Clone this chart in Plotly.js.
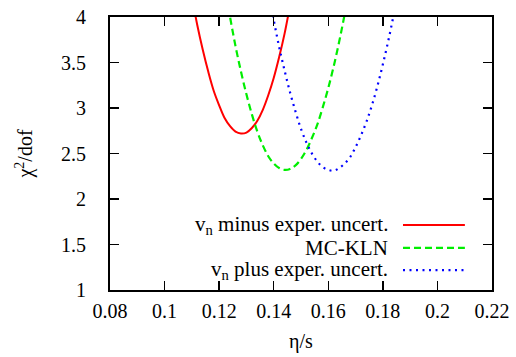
<!DOCTYPE html>
<html>
<head>
<meta charset="utf-8">
<script src="https://cdn.plot.ly/plotly-3.0.1.min.js"></script>
<style>
  html, body { margin: 0; padding: 0; background: #fff; }
  #chart { width: 516px; height: 357px; }
</style>
</head>
<body>
<div id="chart"></div>
<script>
// chi^2/dof versus eta/s for three fits
const etaMinus = [0.110, 0.112, 0.114, 0.116, 0.118, 0.120, 0.122, 0.124, 0.126, 0.128,
                  0.130, 0.132, 0.134, 0.136, 0.138, 0.140, 0.142, 0.144, 0.146, 0.148];
const chiMinus = [4.22, 3.91, 3.64, 3.40, 3.19, 3.03, 2.89, 2.80, 2.74, 2.72,
                  2.73, 2.78, 2.86, 2.98, 3.14, 3.33, 3.56, 3.82, 4.13, 4.46];

const etaKLN = [0.122, 0.124, 0.126, 0.128, 0.130, 0.132, 0.134, 0.136, 0.138, 0.140, 0.142, 0.144,
                0.146, 0.148, 0.150, 0.152, 0.154, 0.156, 0.158, 0.160, 0.162, 0.164, 0.166, 0.168];
const chiKLN = [4.35, 4.00, 3.68, 3.40, 3.15, 2.93, 2.74, 2.59, 2.47, 2.39, 2.34, 2.32,
                2.33, 2.37, 2.44, 2.54, 2.67, 2.82, 3.01, 3.22, 3.46, 3.73, 4.03, 4.35];

const etaPlus = [0.138, 0.140, 0.142, 0.144, 0.146, 0.148, 0.150, 0.152, 0.154, 0.156, 0.158, 0.160,
                 0.162, 0.164, 0.166, 0.168, 0.170, 0.172, 0.174, 0.176, 0.178, 0.180, 0.182, 0.184, 0.186];
const chiPlus = [4.30, 3.97, 3.67, 3.41, 3.17, 2.96, 2.77, 2.62, 2.50, 2.41, 2.35, 2.32,
                 2.31, 2.34, 2.39, 2.46, 2.57, 2.70, 2.85, 3.03, 3.24, 3.48, 3.74, 4.03, 4.34];

const seriesNames = ['v<sub>n</sub> minus exper. uncert.', 'MC-KLN', 'v<sub>n</sub> plus exper. uncert.'];

const serif = 'Liberation Serif';

const styles = [
  { color: '#ff0000', width: 2, dash: 'solid' },
  { color: '#00ee00', width: 2.2, dash: '7px,4px' },
  { color: '#0000ff', width: 2.2, dash: '2px,4.5px' }
];

const xs = [etaMinus, etaKLN, etaPlus];
const ys = [chiMinus, chiKLN, chiPlus];

const traces = xs.map((x, i) => ({
  x: x, y: ys[i], type: 'scatter', mode: 'lines',
  name: seriesNames[i],
  line: { color: styles[i].color, width: styles[i].width, dash: styles[i].dash, shape: 'spline' },
  showlegend: false,
  hoverinfo: 'skip'
}));

// key placed inside the lower right of the frame: text then line sample
const keyRowsY = [0.238, 0.154, 0.073];
const annotations = seriesNames.map((t, i) => ({
  xref: 'paper', yref: 'paper', x: 0.732, y: keyRowsY[i],
  xanchor: 'right', yanchor: 'middle', text: t, showarrow: false,
  font: { family: serif, size: 21, color: '#000' }
}));
const shapes = styles.map((s, i) => ({
  type: 'line', xref: 'paper', yref: 'paper',
  x0: 0.767, x1: 0.929, y0: keyRowsY[i], y1: keyRowsY[i],
  line: { color: s.color, width: s.width, dash: s.dash }
}));

const axisCommon = {
  showgrid: false, zeroline: false,
  showline: true, linecolor: '#000', linewidth: 2, mirror: 'ticks',
  ticks: 'inside', ticklen: 9, tickwidth: 1.5, tickcolor: '#000',
  tickfont: { family: serif, size: 20, color: '#000' }
};

const layout = {
  width: 516, height: 357,
  margin: { l: 110, r: 24, t: 17, b: 67 },
  paper_bgcolor: '#fff', plot_bgcolor: '#fff',
  xaxis: Object.assign({}, axisCommon, {
    range: [0.08, 0.22], tick0: 0.08, dtick: 0.02,
    ticklabelstandoff: 2,
    title: { text: 'η/s', font: { family: serif, size: 20, color: '#000' }, standoff: 13 }
  }),
  yaxis: Object.assign({}, axisCommon, {
    range: [1, 4], tick0: 1, dtick: 0.5,
    ticklabelstandoff: 18,
    title: { text: 'χ<sup>2</sup>/dof', font: { family: serif, size: 20, color: '#000' }, standoff: 23 }
  }),
  annotations: annotations,
  shapes: shapes
};

Plotly.newPlot('chart', traces, layout, { displayModeBar: false, staticPlot: true });
</script>
</body>
</html>
